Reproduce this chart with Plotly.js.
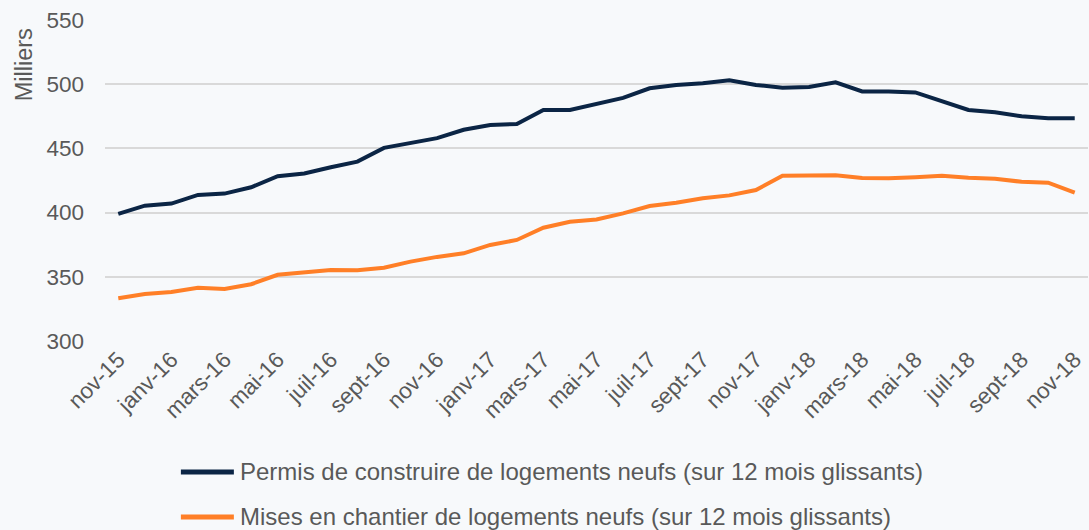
<!DOCTYPE html>
<html><head><meta charset="utf-8">
<script src="https://cdn.plot.ly/plotly-3.0.1.min.js"></script>
<style>html,body{margin:0;padding:0;background:#f7f9fb;}#chart{width:1089px;height:530px;}</style>
</head><body><div id="chart"></div>
<script>
const months = ["nov-15","déc-15","janv-16","févr-16","mars-16","avr-16","mai-16","juin-16","juil-16","août-16","sept-16","oct-16","nov-16","déc-16","janv-17","févr-17","mars-17","avr-17","mai-17","juin-17","juil-17","août-17","sept-17","oct-17","nov-17","déc-17","janv-18","févr-18","mars-18","avr-18","mai-18","juin-18","juil-18","août-18","sept-18","oct-18","nov-18"];
const permis = [399,405.4,407,413.8,414.8,419.7,428.3,430.4,435.3,439.7,450.4,454,458,464.5,468.2,469,479.9,479.9,484.6,489.3,496.8,499.4,500.7,503,499.4,497.3,497.8,501.4,494.4,494.4,493.6,486.6,479.9,478.1,475,473.4,473.4];
const mises = [333.3,336.6,338.2,341.5,340.5,344.2,351.6,353.2,355.3,355.1,357.1,361.8,365.5,368.3,374.8,378.7,388.2,392.9,394.7,399.4,405.1,407.7,411.1,413.4,417.6,428.7,428.7,429,426.9,426.7,427.5,428.7,427.2,426.4,424,423.3,415.5];
const tickLabels = months.filter((m,i)=>i%2===0);
const seriesNames = ["Permis de construire de logements neufs (sur 12 mois glissants)","Mises en chantier de logements neufs (sur 12 mois glissants)"];
const seriesColors = ['#0b2545','#ff7f27'];

const font = "Liberation Sans, Arial, sans-serif";
const grey = '#595959';
const traces = [
  {x: months, y: permis, type:'scatter', mode:'lines', name: seriesNames[0], line:{color:seriesColors[0], width:4}},
  {x: months, y: mises, type:'scatter', mode:'lines', name: seriesNames[1], line:{color:seriesColors[1], width:4}}
];
// legend drawn in paper coordinates (plot area spans pixels 20..341 vertically, 105..1089 horizontally)
const legendRowsY = [-0.408, -0.548];
const shapes = seriesNames.map((n,i)=>({type:'line', xref:'paper', yref:'paper', x0:0.0772, x1:0.1311, y0:legendRowsY[i], y1:legendRowsY[i],
  line:{color:seriesColors[i], width:5}}));
const annotations = seriesNames.map((n,i)=>({text:n, xref:'paper', yref:'paper', x:0.1352, y:legendRowsY[i], xanchor:'left', yanchor:'middle',
  showarrow:false, font:{size:24, color:grey, family:font}}));
annotations.push({text:'Milliers', xref:'paper', yref:'paper', x:-0.082, y:0.86, xanchor:'center', yanchor:'middle',
  textangle:-90, showarrow:false, font:{size:23.5, color:grey, family:font}});

const layout = {
  width:1089, height:530,
  margin:{l:105, r:1, t:20, b:189},
  paper_bgcolor:'#f7f9fb', plot_bgcolor:'#f7f9fb',
  font:{family:font, color:grey, size:22},
  showlegend:false,
  xaxis:{type:'category', range:[-0.5,36.5], tickmode:'array', tickvals:tickLabels, ticktext:tickLabels, automargin:false,
         tickangle:-45, showgrid:false, zeroline:false, showline:false, ticks:'', tickfont:{size:22.5, color:grey}},
  yaxis:{range:[300,550], dtick:50, showgrid:true, gridcolor:'#d9d9d9', gridwidth:1.5, zeroline:false, automargin:false,
         showline:false, ticks:'', ticklabelstandoff:20, tickfont:{size:22.5, color:grey}},
  shapes: shapes,
  annotations: annotations
};
Plotly.newPlot('chart', traces, layout, {displayModeBar:false});
</script></body></html>
